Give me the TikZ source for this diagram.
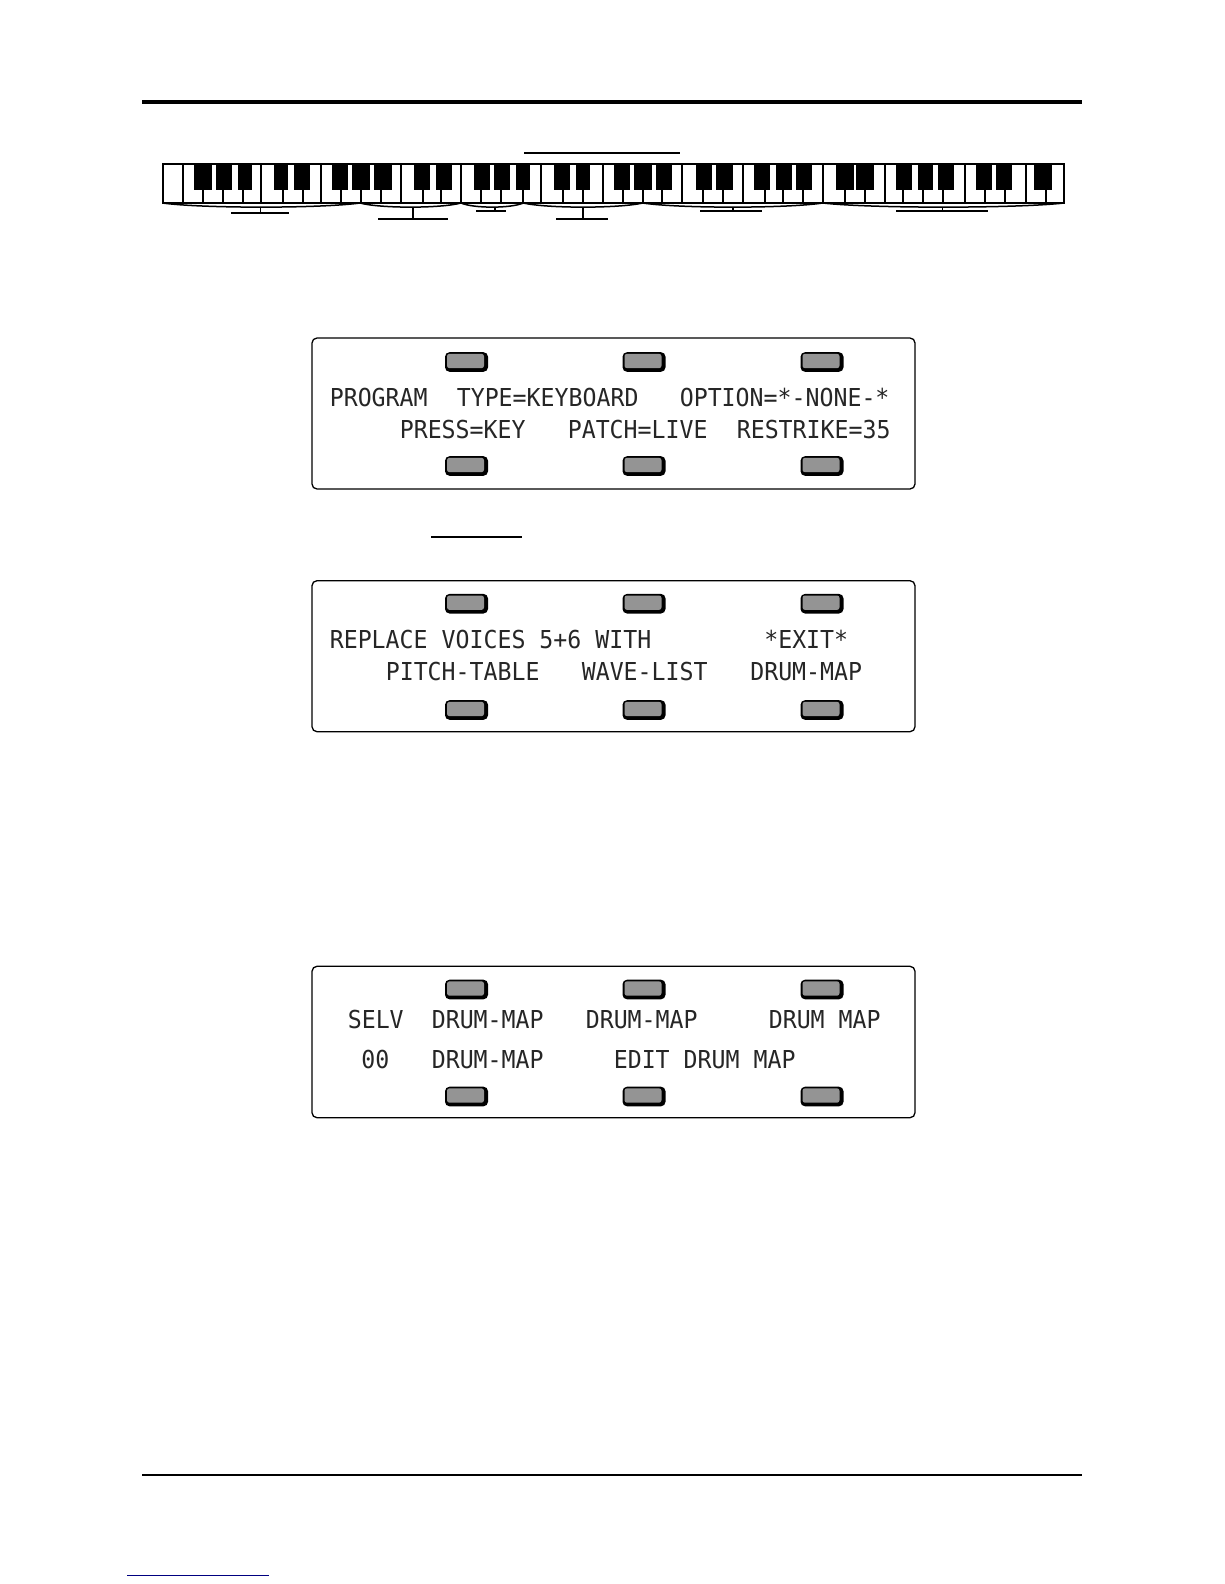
\documentclass[tikz,border=0pt]{standalone}
\usepackage{fontspec}
\setmonofont[FakeStretch=0.94]{DejaVu Sans Mono}
\usepackage{tikz}
\colorlet{BtnGray}{black!42}
\colorlet{LcdInk}{black!85}
\colorlet{LinkBlue}{blue!50!black}

\begin{document}
\begin{tikzpicture}[
  x=1pt, y=-1pt,
  lcdtext/.style={font=\ttfamily\fontsize{24.7}{28}\selectfont, text=LcdInk, anchor=base west, inner sep=0pt, outer sep=0pt, xshift=0.8pt},
  lcdpanel/.style={draw=black, line width=1.3pt, fill=white, rounded corners=5pt},
  btnshade/.style={fill=black, rounded corners=4.5pt, minimum width=43pt, minimum height=19.6pt, inner sep=0pt},
  btnface/.style={fill=BtnGray, rounded corners=2.5pt, minimum width=37pt, minimum height=14.4pt, inner sep=0pt},
  keyline/.style={line width=2pt, black},
  spanline/.style={line width=1.5pt, black},
  barline/.style={line width=2pt, black}
]
\useasboundingbox (0,0) rectangle (1224,1584);

% Page rules
\draw[line width=4pt] (142,101.7) -- (1082,101.7);
\draw[line width=2pt] (142,1474.7) -- (1082,1474.7);
\draw[line width=1pt, LinkBlue] (127,1575) -- (269,1575);

% Short rules above the keyboard and the second panel
\draw[barline] (524,152.7) -- (680,152.7);
\draw[line width=1.2pt] (431,537) -- (522,537);

% Keyboard
\draw[line width=2pt] (162.5,164) rectangle (1064,203);
\foreach \kx in {183,202.7,222.7,243,261,283,303,321,341,361,381,401,422.7,441,461,481,501,523.3,541,562.7,582.7,603.3,
                 622.7,642.7,661.7,681.7,702.7,722.7,742.7,765,783.3,803.3,823.3,845,865,885,903.3,923.3,943.3,965,985,1005,1025.7,1045.7} {
  \draw[keyline] (\kx,164) -- (\kx,203);
}
\foreach \ka/\kb in {194/211.7,216/231.7,238.3/251.7,274/288.3,294/310,332.3/348.3,352.3/370,374/391.7,414/430,436/451.7,
                     474.3/490,494/510,516/530,554.3/570,576/590,614/630,634.3/651.7,656/672.3,696/711.7,716/732.7,
                     754/770,776/791.7,796/812.3,836/854,856/874,896/911.7,918.3/933.3,938.3/954,976/991.7,996/1011.7,1034.3/1051.7} {
  \fill[black] (\ka,164) rectangle (\kb,190);
}

% Spans under the keyboard
\foreach \sa/\sb in {162.5/360,360/461,461/523.3,523.3/642.7,642.7/822.7,822.7/1064} {
  \draw[spanline] (\sa,203) .. controls (\sa*0.8+\sb*0.2,208.5) and (\sa*0.2+\sb*0.8,208.5) .. (\sb,203);
}
\foreach \tx/\la/\lb/\ly in {260.7/231/289/212.7,413/378/448/219,495/476/506/210.7,583/556/608/219,733/700/762/210.7,942.7/896/988/210.7} {
  \draw[spanline] (\tx,207) -- (\tx,\ly);
  \draw[barline] (\la,\ly) -- (\lb,\ly);
}

% Panels
\draw[lcdpanel] (312,338) rectangle (915,489);
\draw[lcdpanel] (312,580.7) rectangle (915,731.7);
\draw[lcdpanel] (312,966.3) rectangle (915,1117.7);

% Buttons
\foreach \by in {362,466,603.7,710,989.5,1096.5} {
  \foreach \bx in {466.5,644,822} {
    \node[btnshade] at (\bx,\by) {};
    \node[btnface] at (\bx-1,\by-1) {};
  }
}

% Text of the first panel
\node[lcdtext] (progname) at (329,406) {PROGRAM};
\node[lcdtext] (progtype) at (456,406) {TYPE=KEYBOARD};
\node[lcdtext] (progoption) at (679,406) {OPTION=*-NONE-*};
\node[lcdtext] (progpress) at (399,438.7) {PRESS=KEY};
\node[lcdtext] (progpatch) at (567,438.7) {PATCH=LIVE};
\node[lcdtext] (progrestrike) at (736,438.7) {RESTRIKE=35};

% Text of the second panel
\node[lcdtext] (replvoices) at (329,648) {REPLACE VOICES 5+6 WITH};
\node[lcdtext] (replexit) at (763.5,648) {*EXIT*};
\node[lcdtext] (replpitch) at (385,680.7) {PITCH-TABLE};
\node[lcdtext] (replwave) at (581,680.7) {WAVE-LIST};
\node[lcdtext] (repldrum) at (749.5,680.7) {DRUM-MAP};

% Text of the third panel
\node[lcdtext] (mapselv) at (347,1028) {SELV};
\node[lcdtext] (mapone) at (431,1028) {DRUM-MAP};
\node[lcdtext] (maptwo) at (585,1028) {DRUM-MAP};
\node[lcdtext] (mapthree) at (768,1028) {DRUM MAP};
\node[lcdtext] (mapzero) at (360.5,1068) {00};
\node[lcdtext] (mapfour) at (431,1068) {DRUM-MAP};
\node[lcdtext] (mapedit) at (613,1068) {EDIT DRUM MAP};

\end{tikzpicture}
\end{document}
